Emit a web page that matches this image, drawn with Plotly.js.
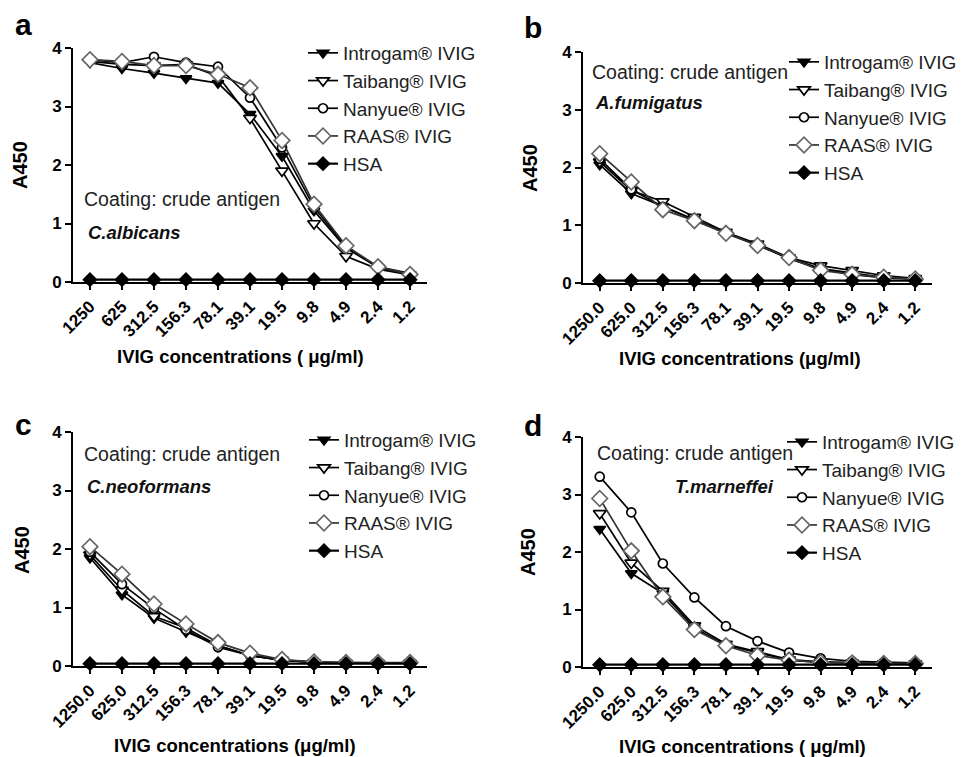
<!DOCTYPE html>
<html><head><meta charset="utf-8">
<script src="https://cdn.plot.ly/plotly-3.0.1.min.js"></script>
<style>html,body{margin:0;padding:0;background:#fff}#chart{width:979px;height:757px}</style>
</head><body><div id="chart"></div>
<script>
const concA = ["1250","625","312.5","156.3","78.1","39.1","19.5","9.8","4.9","2.4","1.2"];
const concB = ["1250.0","625.0","312.5","156.3","78.1","39.1","19.5","9.8","4.9","2.4","1.2"];
const seriesNames = ["Introgam® IVIG","Taibang® IVIG","Nanyue® IVIG","RAAS® IVIG","HSA"];

// Panel a: C.albicans
const introA = [3.75,3.65,3.57,3.48,3.40,2.87,2.15,1.22,0.58,0.25,0.13];
const taibA  = [3.77,3.72,3.70,3.72,3.52,2.80,1.90,1.00,0.44,0.22,0.12];
const nanA   = [3.80,3.75,3.85,3.75,3.68,3.15,2.30,1.28,0.60,0.26,0.15];
const raasA  = [3.80,3.77,3.70,3.70,3.55,3.32,2.42,1.33,0.62,0.26,0.13];
const hsaA   = [0.04,0.04,0.04,0.04,0.04,0.04,0.04,0.04,0.04,0.04,0.04];
// Panel b: A.fumigatus
const introB = [2.05,1.55,1.33,1.10,0.86,0.66,0.42,0.24,0.15,0.09,0.07];
const taibB  = [2.10,1.60,1.41,1.14,0.88,0.68,0.44,0.30,0.22,0.13,0.08];
const nanB   = [2.15,1.62,1.32,1.10,0.87,0.66,0.43,0.25,0.17,0.10,0.07];
const raasB  = [2.24,1.75,1.27,1.08,0.86,0.65,0.44,0.22,0.15,0.10,0.07];
const hsaB   = [0.04,0.04,0.04,0.04,0.04,0.04,0.04,0.04,0.04,0.04,0.04];
// Panel c: C.neoformans
const introC = [1.85,1.22,0.82,0.58,0.35,0.18,0.10,0.06,0.05,0.05,0.05];
const taibC  = [1.90,1.30,0.85,0.65,0.35,0.18,0.10,0.06,0.05,0.05,0.05];
const nanC   = [1.95,1.40,0.98,0.62,0.32,0.18,0.10,0.07,0.06,0.05,0.05];
const raasC  = [2.04,1.57,1.06,0.72,0.40,0.22,0.11,0.07,0.06,0.06,0.06];
const hsaC   = [0.04,0.04,0.04,0.04,0.04,0.04,0.04,0.04,0.04,0.04,0.04];
// Panel d: T.marneffei
const introD = [2.40,1.63,1.28,0.68,0.38,0.25,0.12,0.08,0.07,0.06,0.06];
const taibD  = [2.67,1.81,1.32,0.72,0.40,0.27,0.13,0.09,0.07,0.06,0.06];
const nanD   = [3.31,2.69,1.80,1.21,0.71,0.45,0.25,0.15,0.10,0.08,0.07];
const raasD  = [2.93,2.02,1.22,0.65,0.37,0.20,0.12,0.08,0.07,0.06,0.06];
const hsaD   = [0.04,0.04,0.04,0.04,0.04,0.04,0.04,0.04,0.04,0.04,0.04];

const styles = [
  {symbol:"triangle-down", color:"#000", lc:"#000", size:10, line:"#000"},
  {symbol:"triangle-down", color:"#fff", lc:"#000", size:11, line:"#000"},
  {symbol:"circle", color:"#fff", lc:"#000", size:9, line:"#000"},
  {symbol:"diamond", color:"#fff", lc:"#666", size:12, line:"#333"},
  {symbol:"diamond", color:"#000", lc:"#000", size:10, line:"#000"}
];

const FONT = "Arial, 'Liberation Sans', sans-serif";
const traces = [];
function addPanel(cats, arrays, ax, legendId){
  arrays.forEach((ys, i) => {
    const s = styles[i];
    traces.push({
      type:"scatter", mode:"lines+markers", x:cats, y:ys, name:seriesNames[i],
      xaxis:"x"+ax, yaxis:"y"+ax, legend:legendId, cliponaxis:false,
      line:{color:s.line, width:i === 4 ? 2.2 : 1.7},
      marker:{symbol:s.symbol, size:s.size, color:s.color, line:{color:s.lc, width:1.7}}
    });
  });
}
addPanel(concA, [introA,taibA,nanA,raasA,hsaA], "", "legend");
addPanel(concB, [introB,taibB,nanB,raasB,hsaB], "2", "legend2");
addPanel(concB, [introC,taibC,nanC,raasC,hsaC], "3", "legend3");
addPanel(concB, [introD,taibD,nanD,raasD,hsaD], "4", "legend4");

const W = 979, H = 757;
const px = v => v / W, py = v => 1 - v / H;

function xax(l, r, anchor){
  return {domain:[px(l), px(r)], anchor:anchor, type:"category", range:[-0.53,10.53],
    showline:true, linewidth:2, linecolor:"#000", ticks:"outside", ticklen:6, tickwidth:2, tickcolor:"#000",
    tickangle:-45, tickfont:{family:FONT, size:17, color:"#000", weight:"bold"},
    showgrid:false, zeroline:false, fixedrange:true};
}
function yax(t, b, anchor){
  return {domain:[py(b), py(t)], anchor:anchor, range:[0,4], dtick:1, tick0:0,
    showline:true, linewidth:2, linecolor:"#000", ticks:"outside", ticklen:6, tickwidth:2, tickcolor:"#000",
    tickfont:{family:FONT, size:17, color:"#000", weight:"bold"},
    showgrid:false, zeroline:false, fixedrange:true};
}
function leg(xp, yp){
  return {x:px(xp), y:py(yp), xanchor:"left", yanchor:"top", bgcolor:"rgba(0,0,0,0)",
    font:{family:FONT, size:19, color:"#222"}, tracegroupgap:0, itemwidth:30};
}
function ann(x, y, text, opts){
  return Object.assign({x:px(x), y:py(y), xref:"paper", yref:"paper", text:text, showarrow:false,
    xanchor:"center", yanchor:"middle", font:{family:FONT, size:18, color:"#000"}}, opts||{});
}
const bold = {family:FONT, size:20, color:"#000", weight:"bold"};
const xtitleFont = {family:FONT, size:18.5, color:"#000", weight:"bold"};
const coatFont = {family:FONT, size:19.5, color:"#222"};
const spFont = {family:FONT, size:18.5, color:"#111", weight:"bold"};
const letterFont = {family:FONT, size:30, color:"#000", weight:"bold"};
const annotations = [
  ann(23, 24, "a", {font:letterFont}),
  ann(533, 27, "b", {font:letterFont}),
  ann(23, 424, "c", {font:letterFont}),
  ann(533, 425, "d", {font:letterFont}),
  ann(20, 165, "A450", {textangle:-90, font:bold}),
  ann(530, 168, "A450", {textangle:-90, font:bold}),
  ann(22, 550, "A450", {textangle:-90, font:bold}),
  ann(528, 552, "A450", {textangle:-90, font:bold}),
  ann(240, 357, "IVIG concentrations ( μg/ml)", {font:xtitleFont}),
  ann(740, 358, "IVIG concentrations (μg/ml)", {font:xtitleFont}),
  ann(235, 745, "IVIG concentrations (μg/ml)", {font:xtitleFont}),
  ann(742, 746, "IVIG concentrations ( μg/ml)", {font:xtitleFont}),
  ann(82, 199, "Coating: crude antigen", {xanchor:"left", font:coatFont}),
  ann(86, 232, "<i>C.albicans</i>", {xanchor:"left", font:spFont}),
  ann(590, 72, "Coating: crude antigen", {xanchor:"left", font:coatFont}),
  ann(593, 102, "<i>A.fumigatus</i>", {xanchor:"left", font:spFont}),
  ann(82, 454, "Coating: crude antigen", {xanchor:"left", font:coatFont}),
  ann(85, 487, "<i>C.neoformans</i>", {xanchor:"left", font:spFont}),
  ann(595, 453, "Coating: crude antigen", {xanchor:"left", font:coatFont}),
  ann(673, 486, "<i>T.marneffei</i>", {xanchor:"left", font:spFont})
];

const layout = {
  width:W, height:H, margin:{l:0, r:0, t:0, b:0}, paper_bgcolor:"#fff", plot_bgcolor:"rgba(0,0,0,0)",
  font:{family:FONT, color:"#000"}, showlegend:true,
  xaxis: xax(73, 427, "y"),  yaxis: yax(48, 282, "x"),
  xaxis2:xax(583, 932, "y2"), yaxis2:yax(52, 283, "x2"),
  xaxis3:xax(73, 427, "y3"), yaxis3:yax(432, 666, "x3"),
  xaxis4:xax(583, 932, "y4"), yaxis4:yax(437, 667, "x4"),
  legend: leg(303, 34),
  legend2:leg(784, 43),
  legend3:leg(304, 421),
  legend4:leg(782, 423),
  annotations:annotations
};
Plotly.newPlot("chart", traces, layout, {staticPlot:true, displayModeBar:false});
</script></body></html>
